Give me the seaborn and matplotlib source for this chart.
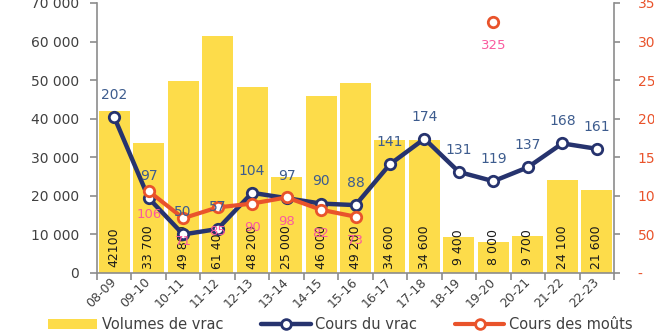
import numpy as np
import pandas as pd
import matplotlib
matplotlib.use("Agg")
import matplotlib.pyplot as plt
from matplotlib.lines import Line2D
from matplotlib.patches import Patch
from matplotlib.ticker import FuncFormatter, FixedLocator
import seaborn as sns

# Campaign data
seasons = ["08-09", "09-10", "10-11", "11-12", "12-13", "13-14", "14-15", "15-16",
           "16-17", "17-18", "18-19", "19-20", "20-21", "21-22", "22-23"]
volumes = [42100, 33700, 49800, 61400, 48200, 25000, 46000, 49200,
           34600, 34600, 9400, 8000, 9700, 24100, 21600]
cours_vrac = [202, 97, 50, 57, 104, 97, 90, 88, 141, 174, 131, 119, 137, 168, 161]
cours_mouts = [np.nan, 106, 71, 85, 90, 98, 82, 73,
               np.nan, np.nan, np.nan, 325, np.nan, np.nan, np.nan]

YELLOW = "#FDDC4A"
NAVY = "#26336E"
ORANGE = "#E9532B"
BLUE_TXT = "#3D5C8E"
PINK_TXT = "#FA5A9E"
GREY_TXT = "#404040"
SPINE = "#8C8C8C"

sns.set_style("white")
plt.rcParams["font.family"] = ["DejaVu Sans"]

def spaced(v):
    return f"{int(v):,}".replace(",", " ")

fig = plt.figure(figsize=(6.54, 3.32), dpi=100)
ax = fig.add_axes([97 / 654, 59 / 332, 517 / 654, 270 / 332])

vol_df = pd.DataFrame({"season": seasons, "volume": volumes})
sns.barplot(data=vol_df, x="season", y="volume", ax=ax, color=YELLOW,
            width=0.9, saturation=1, edgecolor="none")

ax.set_ylim(0, 70000)
ax.set_xlim(-0.5, len(seasons) - 0.5)
ax.set_yticks(np.arange(0, 70001, 10000))
ax.yaxis.set_major_formatter(FuncFormatter(lambda v, p: spaced(v)))
ax.set_xlabel("")
ax.set_ylabel("")

# volume labels written vertically inside the bars
for i, v in enumerate(volumes):
    txt = f"{v}" if i == 0 else spaced(v)
    ax.text(i, 6800, txt, rotation=90, ha="center", va="center",
            fontsize=9, color="#1a1a1a", zorder=5)

for s in ["top", "right"]:
    ax.spines[s].set_visible(False)
for s in ["left", "bottom"]:
    ax.spines[s].set_color(SPINE)
    ax.spines[s].set_linewidth(1.2)

ax.tick_params(axis="y", left=True, length=5, color=SPINE, width=1.2,
               labelsize=10, labelcolor=GREY_TXT, pad=8)
ax.xaxis.set_minor_locator(FixedLocator(np.arange(-0.5, len(seasons), 1)))
ax.tick_params(axis="x", which="minor", bottom=True, length=5, color=SPINE, width=1.2)
ax.tick_params(axis="x", which="major", bottom=False, length=0,
               labelsize=9, labelcolor=GREY_TXT, pad=5)
for lab in ax.get_xticklabels():
    lab.set_rotation(45)
    lab.set_ha("right")
    lab.set_va("center")
    lab.set_rotation_mode("anchor")

# price axis on the right
ax2 = ax.twinx()
ax2.set_ylim(0, 350)
ax2.set_yticks(np.arange(0, 351, 50))
ax2.yaxis.set_major_formatter(FuncFormatter(lambda v, p: "-" if v == 0 else f"{int(v)}"))
ax2.tick_params(axis="y", right=True, length=4, color=SPINE, width=1.2,
                labelsize=10, labelcolor=ORANGE, pad=13)
for s in ["top", "left", "bottom"]:
    ax2.spines[s].set_visible(False)
ax2.spines["right"].set_color(SPINE)
ax2.spines["right"].set_linewidth(1.2)
ax2.grid(False)
ax.grid(False)

pos = np.arange(len(seasons))
vrac_df = pd.DataFrame({"pos": pos, "prix": cours_vrac})
sns.lineplot(data=vrac_df, x="pos", y="prix", ax=ax2, color=NAVY, lw=3.2,
             marker="o", markersize=7.5, markerfacecolor="white",
             markeredgecolor=NAVY, markeredgewidth=2.0, zorder=3)

# moûts series: contiguous runs drawn as separate units
mouts_arr = np.array(cours_mouts, dtype=float)
segment = np.cumsum(np.isnan(mouts_arr))
mouts_df = pd.DataFrame({"pos": pos, "prix": mouts_arr, "seg": segment}).dropna()
sns.lineplot(data=mouts_df, x="pos", y="prix", units="seg", estimator=None, ax=ax2,
             color=ORANGE, lw=3.0, marker="o", markersize=7.5, markerfacecolor="white",
             markeredgecolor=ORANGE, markeredgewidth=2.0, zorder=4)
ax2.set_xlim(-0.5, len(seasons) - 0.5)
ax2.set_xlabel("")
ax2.set_ylabel("")

for i, v in enumerate(cours_vrac):
    ax2.annotate(str(v), (i, v), xytext=(0, 16), textcoords="offset points",
                 ha="center", va="center", fontsize=10, color=BLUE_TXT, zorder=6)
for i, v in enumerate(cours_mouts):
    if not np.isnan(v):
        ax2.annotate(str(int(v)), (i, v), xytext=(0, -17), textcoords="offset points",
                     ha="center", va="center", fontsize=9.5, color=PINK_TXT, zorder=6)

handles = [
    Patch(facecolor=YELLOW, edgecolor="none"),
    Line2D([], [], color=NAVY, lw=3.2, marker="o", markersize=7,
           markerfacecolor="white", markeredgecolor=NAVY, markeredgewidth=2),
    Line2D([], [], color=ORANGE, lw=3.0, marker="o", markersize=7,
           markerfacecolor="white", markeredgecolor=ORANGE, markeredgewidth=2),
]
fig.legend(handles, ["Volumes de vrac", "Cours du vrac", "Cours des moûts"],
           loc="center", bbox_to_anchor=(0.52, 0.022), ncol=3, frameon=False,
           fontsize=10.5, handlelength=3.4, columnspacing=2.6, handletextpad=0.3,
           labelcolor=GREY_TXT)

fig.savefig("out.png", dpi=100)
